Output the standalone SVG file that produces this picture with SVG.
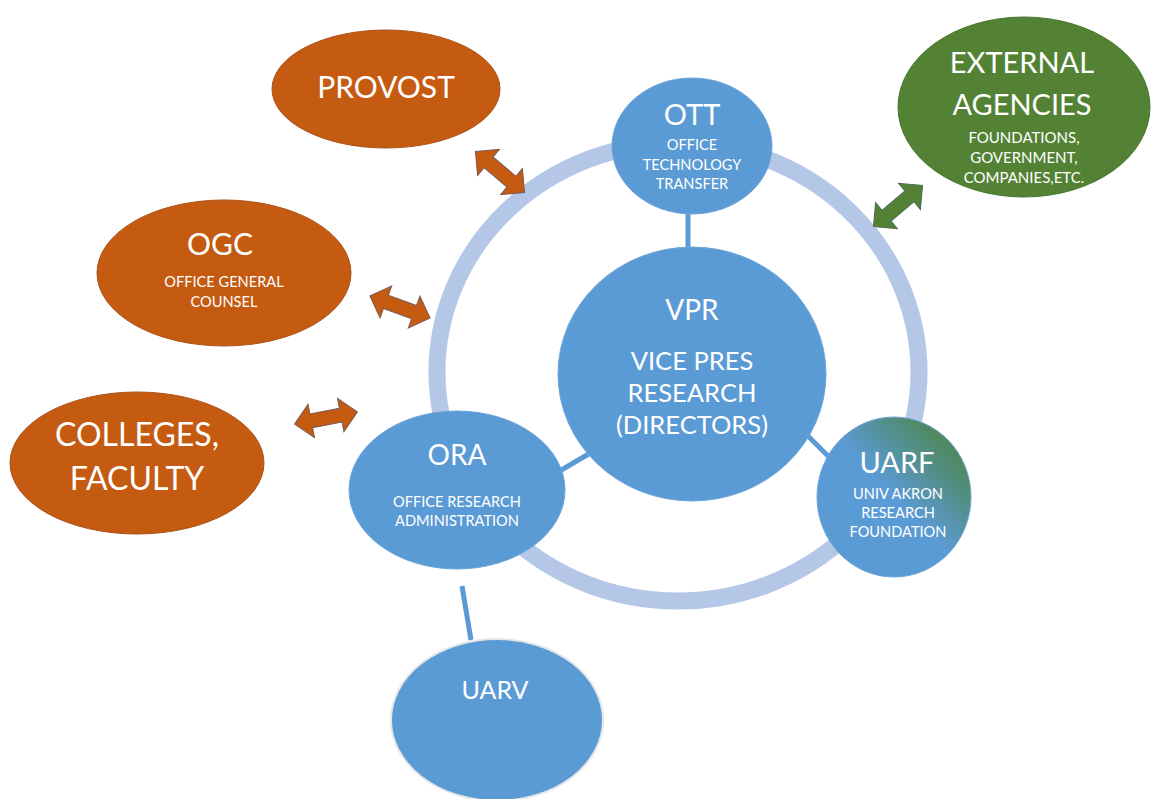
<svg xmlns="http://www.w3.org/2000/svg" width="1151" height="799" viewBox="0 0 1151 799">
<style>
.blue{fill:#5B9BD5;stroke:#6fa5d9;stroke-width:1}
.orange{fill:#C55A11;stroke:#a9521a;stroke-width:1}
.green{fill:#548235;stroke:#4a7530;stroke-width:1}
text{font-family:Lato,"Liberation Sans",sans-serif;fill:#ffffff;text-anchor:middle}
.big{font-size:29px}
.vpr{font-size:25.5px}
.small{font-size:14.6px}
.conn{stroke:#5B9BD5;stroke-width:5;fill:none}
.arrO{fill:#C55A11;stroke:#7a5a55;stroke-width:1}
.arrG{fill:#548235;stroke:#4a6a55;stroke-width:1}
</style>
<defs>
<linearGradient id="uarfGrad" x1="0" y1="1" x2="1" y2="0">
<stop offset="0" stop-color="#5B9BD5"/>
<stop offset="0.5" stop-color="#5B9BD5"/>
<stop offset="0.8" stop-color="#4f8a6a"/>
<stop offset="1" stop-color="#548235"/>
</linearGradient>
<path id="dblArrow" d="M-32,0 L-15,-17 L-15,-7 L15,-7 L15,-17 L32,0 L15,17 L15,7 L-15,7 L-15,17 Z"/>
</defs>
<rect width="1151" height="799" fill="#ffffff"/>
<g id="ring">
<ellipse cx="678" cy="372" rx="241" ry="229" fill="none" stroke="#B4C7E7" stroke-width="17"/>
</g>
<g id="connectors">
<line class="conn" x1="688" y1="210" x2="688" y2="250"/>
<line class="conn" x1="558" y1="472" x2="592" y2="452"/>
<line class="conn" x1="803" y1="431" x2="830" y2="458"/>
<line class="conn" x1="462" y1="586" x2="471" y2="640"/>
<use href="#dblArrow" class="arrO" transform="translate(500,172) rotate(40)"/>
<use href="#dblArrow" class="arrO" transform="translate(400,307) rotate(20)"/>
<use href="#dblArrow" class="arrO" transform="translate(326,418) rotate(-11)"/>
<use href="#dblArrow" class="arrG" transform="translate(898,206) rotate(-40)"/>
</g>
<g id="vpr">
<ellipse class="blue" cx="692" cy="374" rx="134" ry="127"/>
<text x="692" y="320" style="font-size:28px">VPR</text>
<text class="vpr" x="692" y="370">VICE PRES</text>
<text class="vpr" x="692" y="402">RESEARCH</text>
<text class="vpr" x="692" y="434">(DIRECTORS)</text>
</g>
<g id="ott">
<ellipse class="blue" cx="692" cy="146" rx="80" ry="68"/>
<text class="big" x="692" y="125">OTT</text>
<text class="small" x="692" y="150">OFFICE</text>
<text class="small" x="692" y="170">TECHNOLOGY</text>
<text class="small" x="692" y="189">TRANSFER</text>
</g>
<g id="ora">
<ellipse class="blue" cx="457" cy="490" rx="108" ry="79"/>
<text x="457" y="465" style="font-size:28px">ORA</text>
<text class="small" x="457" y="507">OFFICE RESEARCH</text>
<text class="small" x="457" y="526">ADMINISTRATION</text>
</g>
<g id="uarf">
<ellipse cx="894" cy="497" rx="77" ry="80" fill="url(#uarfGrad)" stroke="#6fa5d9" stroke-width="1"/>
<text x="897" y="473" style="font-size:29px">UARF</text>
<text class="small" x="898" y="499">UNIV AKRON</text>
<text class="small" x="898" y="518">RESEARCH</text>
<text class="small" x="898" y="537">FOUNDATION</text>
</g>
<g id="uarv">
<ellipse cx="497" cy="720" rx="106" ry="81" fill="#5B9BD5" stroke="#e6e6e6" stroke-width="2"/>
<text x="495" y="699" style="font-size:25px">UARV</text>
</g>
<g id="provost">
<ellipse class="orange" cx="386" cy="89" rx="114" ry="59"/>
<text x="386" y="98" style="font-size:30px">PROVOST</text>
</g>
<g id="ogc">
<ellipse class="orange" cx="224" cy="273" rx="127" ry="73"/>
<text x="220" y="255" style="font-size:30px">OGC</text>
<text class="small" x="224" y="287">OFFICE GENERAL</text>
<text class="small" x="224" y="307">COUNSEL</text>
</g>
<g id="colleges">
<ellipse class="orange" cx="137" cy="463" rx="127" ry="71"/>
<text x="137" y="446" style="font-size:32px">COLLEGES,</text>
<text x="137" y="490" style="font-size:32px">FACULTY</text>
</g>
<g id="external">
<ellipse class="green" cx="1024" cy="107" rx="126" ry="90"/>
<text class="big" x="1022" y="73">EXTERNAL</text>
<text class="big" x="1022" y="115">AGENCIES</text>
<text x="1024" y="143" style="font-size:15px">FOUNDATIONS,</text>
<text x="1024" y="163" style="font-size:15px">GOVERNMENT,</text>
<text x="1024" y="183" style="font-size:15px">COMPANIES,ETC.</text>
</g>
</svg>
